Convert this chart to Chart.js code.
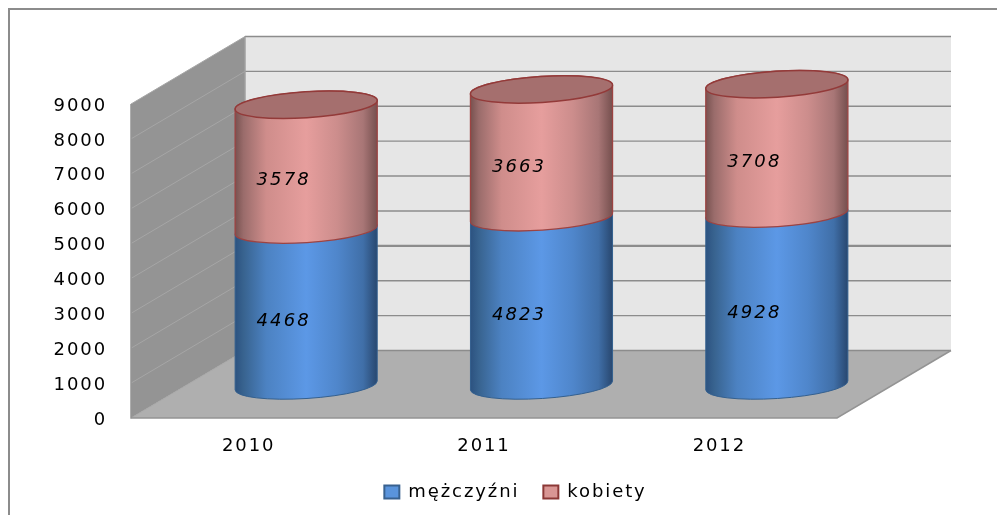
<!DOCTYPE html>
<html><head><meta charset="utf-8">
<style>html,body{margin:0;padding:0;background:#fff}canvas{display:block}</style>
<script src="https://cdn.jsdelivr.net/npm/chart.js@4"></script>
</head><body><canvas id="c" width="997" height="515"></canvas>
<script>
const categories = ['2010','2011','2012'];
const mezczyzni = [4468,4823,4928];
const kobiety = [3578,3663,3708];
const seriesNames = ['mężczyźni','kobiety'];
const yTicksMax = 9000;
const yTicksStep = 1000;

const DEPTH_X = 114, DEPTH_Y = -67.5, OFF_X = 57.5, OFF_Y = -32.5, ROT = -0.0633, RY = 13;
const SPACING = '1.9px';
const gradients = [
  [[0,'#2c5280'],[.06,'#38638f'],[.22,'#4c82c2'],[.5,'#5c98e6'],[.72,'#4f86cb'],[.9,'#406fa8'],[1,'#28476f']],
  [[0,'#77514f'],[.06,'#9a6c6b'],[.22,'#cf8d8b'],[.5,'#e69e9d'],[.72,'#cc8d8c'],[.9,'#a87676'],[1,'#754f4e']]
];
const plugin3d = {
  id:'cyl3d',
  beforeUpdate(chart){chart.ctx.letterSpacing=SPACING;},
  beforeDraw(chart){
    const c=chart.ctx; c.letterSpacing=SPACING;
    c.save(); c.strokeStyle='#8c8c8c'; c.lineWidth=2;
    c.beginPath(); c.moveTo(9,515); c.lineTo(9,9); c.lineTo(997,9); c.stroke(); c.restore();
  },
  beforeDatasetsDraw(chart){
    const c=chart.ctx, a=chart.chartArea, y=chart.scales.y;
    c.save();
    const L=a.left,R=a.right,T=a.top,B=a.bottom;
    c.fillStyle='#e6e6e6'; c.fillRect(L+DEPTH_X,T+DEPTH_Y,R-L,B-T);
    c.fillStyle='#949494'; c.beginPath(); c.moveTo(L,T); c.lineTo(L+DEPTH_X,T+DEPTH_Y); c.lineTo(L+DEPTH_X,B+DEPTH_Y); c.lineTo(L,B); c.closePath(); c.fill();
    c.fillStyle='#afafaf'; c.beginPath(); c.moveTo(L,B); c.lineTo(L+DEPTH_X,B+DEPTH_Y); c.lineTo(R+DEPTH_X,B+DEPTH_Y); c.lineTo(R,B); c.closePath(); c.fill();
    y.ticks.forEach(t=>{
      const p=y.getPixelForValue(t.value);
      c.strokeStyle='#a6a6a6'; c.lineWidth=1; c.beginPath(); c.moveTo(L,p); c.lineTo(L+DEPTH_X,p+DEPTH_Y); c.stroke();
      c.strokeStyle='#8c8c8c'; c.lineWidth=t.value===3000?2.4:1.4; c.beginPath(); c.moveTo(L+DEPTH_X,p+DEPTH_Y); c.lineTo(R+DEPTH_X,p+DEPTH_Y); c.stroke();
    });
    c.strokeStyle='#a0a0a0'; c.lineWidth=1.5; c.beginPath(); c.moveTo(L+DEPTH_X,T+DEPTH_Y); c.lineTo(L+DEPTH_X,B+DEPTH_Y); c.stroke();
    c.strokeStyle='#949494'; c.beginPath(); c.moveTo(L,T); c.lineTo(L,B); c.lineTo(R,B); c.lineTo(R+DEPTH_X,B+DEPTH_Y); c.stroke();
    c.restore();
  },
  beforeDatasetDraw(){return false;},
  afterDatasetsDraw(chart){
    const c=chart.ctx;
    [0,1].forEach(di=>{
      chart.getDatasetMeta(di).data.forEach(el=>{
        const cx=el.x+OFF_X, rx=el.width/2, ty=el.y+OFF_Y, by=el.base+OFF_Y;
        c.save();
        const g=c.createLinearGradient(cx-rx,0,cx+rx,0);
        gradients[di].forEach(s=>g.addColorStop(s[0],s[1]));
        c.beginPath();
        c.ellipse(cx,by,rx,RY,ROT,0,Math.PI,false);
        c.ellipse(cx,ty,rx,RY,ROT,Math.PI,2*Math.PI,false);
        c.closePath();
        c.fillStyle=g; c.fill();
        if(di===1){
          c.strokeStyle='#9c4342'; c.lineWidth=1.3; c.stroke();
          c.beginPath(); c.ellipse(cx,ty,rx,RY,ROT,0,2*Math.PI);
          c.fillStyle='#a56f6e'; c.fill(); c.strokeStyle='#933a39'; c.lineWidth=1.5; c.stroke();
        } else {
          c.strokeStyle='#34608f'; c.lineWidth=1; c.stroke();
        }
        c.restore();
      });
    });
    c.save();
    c.font='italic 18px "DejaVu Sans"'; c.fillStyle='#000'; c.textAlign='center'; c.textBaseline='middle'; c.letterSpacing='2.1px';
    [0,1].forEach(di=>{
      chart.getDatasetMeta(di).data.forEach((el,i)=>{
        c.fillText(String(chart.data.datasets[di].data[i]),el.x+35,(el.y+el.base)/2-19);
      });
    });
    c.restore();
  }
};
new Chart(document.getElementById('c'),{
  type:'bar',
  data:{labels:categories,datasets:[
    {label:seriesNames[0],data:mezczyzni,backgroundColor:'#5a94dc',borderColor:'#38618f',borderWidth:2,barPercentage:.605,categoryPercentage:1},
    {label:seriesNames[1],data:kobiety,backgroundColor:'#d99694',borderColor:'#8c3836',borderWidth:2,barPercentage:.605,categoryPercentage:1}
  ]},
  options:{
    responsive:false,animation:false,
    layout:{autoPadding:false,padding:{left:34,right:0,top:104,bottom:4}},
    plugins:{
      tooltip:{enabled:false},
      legend:{position:'bottom',labels:{boxWidth:15,boxHeight:13,padding:24,color:'#000',font:{family:'"DejaVu Sans"',size:18}}}
    },
    scales:{
      x:{stacked:true,grid:{display:false,drawTicks:false},border:{display:false},
        ticks:{color:'#000',padding:18,maxRotation:0,font:{family:'"DejaVu Sans"',size:18}},
        afterFit(s){s.height=41;}},
      y:{stacked:true,min:0,max:yTicksMax,grid:{display:false,drawTicks:false},border:{display:false},
        ticks:{stepSize:yTicksStep,color:'#000',padding:24,labelOffset:2,callback:v=>String(v),font:{family:'"DejaVu Sans"',size:18}},
        afterFit(s){s.width=97;}},
      yr:{position:'right',min:0,max:yTicksMax,grid:{display:false,drawTicks:false},border:{display:false},
        ticks:{display:false},afterFit(s){s.width=160;}}
    }
  },
  plugins:[plugin3d]
});
</script></body></html>
